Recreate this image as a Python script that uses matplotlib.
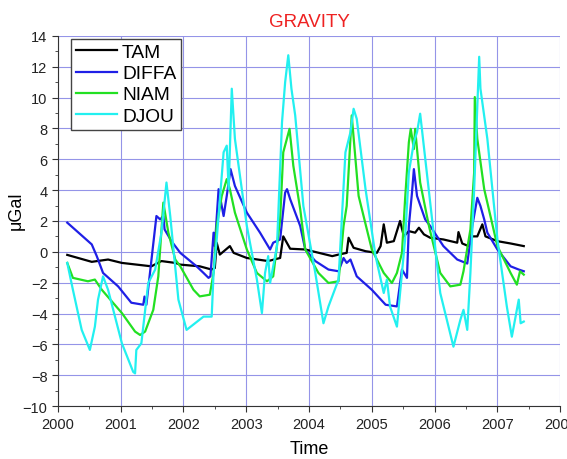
import matplotlib
matplotlib.use("Agg")
import matplotlib.pyplot as plt
from matplotlib.ticker import MultipleLocator

plt.rcParams['font.family'] = ['Liberation Sans', 'DejaVu Sans']

# values (decimal year, microGal)
tam_t = [2000.15, 2000.54, 2000.80, 2001.02, 2001.49, 2001.65, 2001.87, 2001.95, 2002.26,
         2002.45, 2002.50, 2002.53, 2002.58, 2002.74, 2002.80, 2003.01, 2003.35, 2003.54,
         2003.59, 2003.70, 2003.94, 2004.37, 2004.47, 2004.60, 2004.63, 2004.71, 2004.90,
         2005.08, 2005.14, 2005.19, 2005.24, 2005.35, 2005.45, 2005.51, 2005.59, 2005.69,
         2005.75, 2005.83, 2005.93, 2006.14, 2006.36, 2006.38, 2006.44, 2006.54, 2006.60,
         2006.68, 2006.76, 2006.81, 2007.00, 2007.21, 2007.42]
tam_g = [-0.20, -0.65, -0.50, -0.72, -0.94, -0.60, -0.72, -0.83, -0.94,
         -1.15, -1.05, 0.59, -0.18, 0.37, -0.07, -0.40, -0.60, -0.40,
         1.00, 0.20, 0.15, -0.28, -0.18, -0.07, 0.91, 0.26, 0.04,
         -0.07, 0.37, 1.78, 0.59, 0.69, 2.00, 1.00, 1.34, 1.24,
         1.56, 1.13, 0.91, 0.80, 0.59, 1.28, 0.54, 0.37, 1.00,
         1.00, 1.78, 1.00, 0.69, 0.54, 0.37]

diffa_t = [2000.15, 2000.38, 2000.54, 2000.62, 2000.72, 2000.96, 2001.17, 2001.36, 2001.38,
           2001.41, 2001.57, 2001.63, 2001.68, 2001.70, 2001.81, 2001.95, 2002.21, 2002.32,
           2002.40, 2002.43, 2002.48, 2002.50, 2002.56, 2002.64, 2002.69, 2002.75, 2002.82,
           2003.01, 2003.22, 2003.38, 2003.43, 2003.54, 2003.62, 2003.65, 2003.70, 2003.86,
           2003.94, 2004.10, 2004.31, 2004.47, 2004.55, 2004.60, 2004.66, 2004.76, 2005.00,
           2005.22, 2005.40, 2005.48, 2005.56, 2005.59, 2005.64, 2005.67, 2005.72, 2005.85,
           2005.93, 2006.14, 2006.36, 2006.52, 2006.60, 2006.68, 2006.73, 2006.79, 2006.84,
           2007.00, 2007.21, 2007.34, 2007.42]
diffa_g = [1.89, 1.06, 0.48, -0.28, -1.37, -2.24, -3.30, -3.43, -2.90,
           -3.43, 2.32, 2.10, 2.32, 1.45, 0.69, -0.07, -0.94, -1.37,
           -1.69, -1.59, 1.24, 0.37, 4.06, 2.32, 3.62, 5.36, 4.27,
           2.54, 1.24, 0.15, 0.59, 0.80, 3.84, 4.06, 3.41, 1.67,
           0.15, -0.60, -1.15, -1.26, -0.40, -0.72, -0.50, -1.59, -2.46,
           -3.43, -3.54, -1.15, -1.69, 1.67, 3.84, 5.36, 3.62, 2.10,
           1.67, 0.37, -0.50, -0.76, 1.67, 3.50, 2.97, 2.10, 1.24,
           0.15, -0.94, -1.15, -1.26]

niam_t = [2000.15, 2000.24, 2000.48, 2000.59, 2000.70, 2001.02, 2001.23, 2001.31, 2001.39,
          2001.52, 2001.60, 2001.68, 2001.76, 2001.87, 2001.95, 2002.16, 2002.26, 2002.42,
          2002.48, 2002.53, 2002.61, 2002.69, 2002.74, 2002.82, 2003.01, 2003.17, 2003.33,
          2003.43, 2003.54, 2003.59, 2003.69, 2003.75, 2003.86, 2003.94, 2004.15, 2004.31,
          2004.47, 2004.55, 2004.60, 2004.68, 2004.79, 2005.00, 2005.19, 2005.32, 2005.40,
          2005.48, 2005.53, 2005.59, 2005.62, 2005.67, 2005.69, 2005.77, 2005.91, 2006.09,
          2006.25, 2006.41, 2006.46, 2006.57, 2006.63, 2006.64, 2006.68, 2006.79, 2007.00,
          2007.21, 2007.31, 2007.36, 2007.42]
niam_g = [-0.72, -1.69, -1.91, -1.80, -2.46, -3.97, -5.17, -5.39, -5.17,
          -3.76, -1.59, 3.19, 1.24, -0.50, -0.94, -2.46, -2.89, -2.78,
          -1.37, 1.67, 3.62, 4.71, 4.06, 2.54, 0.15, -1.37, -1.91,
          -1.59, 2.10, 6.45, 7.97, 5.58, 2.76, 0.15, -1.37, -2.02,
          -1.91, 1.67, 2.97, 8.84, 3.62, 0.15, -1.37, -2.02, -1.37,
          -0.07, 3.41, 7.10, 7.97, 6.66, 7.97, 4.49, 1.67, -1.37,
          -2.24, -2.13, -1.26, 1.45, 5.15, 10.03, 7.32, 4.06, 0.37,
          -1.37, -2.13, -1.26, -1.48]

djou_t = [2000.15, 2000.24, 2000.38, 2000.51, 2000.59, 2000.64, 2000.72, 2000.80, 2001.02,
          2001.20, 2001.23, 2001.25, 2001.33, 2001.44, 2001.55, 2001.65, 2001.73, 2001.79,
          2001.92, 2002.05, 2002.32, 2002.45, 2002.48, 2002.53, 2002.64, 2002.69, 2002.72,
          2002.77, 2002.82, 2003.01, 2003.17, 2003.25, 2003.30, 2003.35, 2003.38, 2003.49,
          2003.57, 2003.62, 2003.67, 2003.72, 2003.78, 2003.91, 2004.10, 2004.23, 2004.31,
          2004.47, 2004.58, 2004.66, 2004.71, 2004.76, 2004.90, 2005.06, 2005.19, 2005.24,
          2005.29, 2005.40, 2005.53, 2005.59, 2005.67, 2005.72, 2005.77, 2005.96, 2006.09,
          2006.30, 2006.41, 2006.46, 2006.52, 2006.57, 2006.63, 2006.71, 2006.73, 2006.84,
          2007.00, 2007.15, 2007.23, 2007.34, 2007.37, 2007.42]
djou_g = [-0.72, -2.46, -5.06, -6.36, -4.85, -3.10, -1.59, -2.46, -5.93,
          -7.78, -7.88, -6.36, -5.93, -2.02, -1.15, 1.24, 4.49, 2.32,
          -3.10, -5.06, -4.20, -4.20, -1.37, 0.80, 6.45, 6.88, 4.06,
          10.57, 7.32, 1.67, -1.80, -3.97, -1.37, -0.28, -2.02, 0.37,
          8.40, 11.00, 12.74, 10.57, 8.84, 2.97, -1.37, -4.63, -3.54,
          -1.80, 6.45, 7.75, 9.27, 8.62, 4.06, -0.28, -2.67, -1.80,
          -3.54, -4.85, 0.80, 5.15, 7.10, 7.75, 8.95, 2.10, -2.67,
          -6.15, -4.41, -3.76, -5.06, -1.37, 4.06, 12.64, 10.57, 7.32,
          0.80, -3.54, -5.50, -3.10, -4.63, -4.52]

series = [
    ("TAM", tam_t, tam_g, "black"),
    ("DIFFA", diffa_t, diffa_g, "#1f1fe6"),
    ("NIAM", niam_t, niam_g, "#22e022"),
    ("DJOU", djou_t, djou_g, "#22f0f0"),
]

fig = plt.figure(figsize=(5.67, 4.60), dpi=100)
ax = fig.add_axes([0.102, 0.115, 0.886, 0.805])

for name, t, g, col in series:
    ax.plot(t, g, color=col, lw=1.6, label=name)

ax.set_xlim(2000, 2008)
ax.set_ylim(-10, 14)
ax.xaxis.set_major_locator(MultipleLocator(1))
ax.xaxis.set_minor_locator(MultipleLocator(0.5))
ax.yaxis.set_major_locator(MultipleLocator(2))
ax.yaxis.set_minor_locator(MultipleLocator(1))
ax.xaxis.set_major_formatter(plt.FuncFormatter(lambda x, p: f'{x:.0f}'))

ax.grid(True, which='major', color='#9494e8', lw=0.8)
ax.set_axisbelow(True)
for s in ['top', 'right']:
    ax.spines[s].set_visible(False)
for s in ['left', 'bottom']:
    ax.spines[s].set_color('#333333')

ax.tick_params(which='major', direction='out', length=4, labelsize=10.5,
               color='#333333', labelcolor='#222222')
ax.tick_params(which='minor', direction='out', length=2.5, color='#333333')

ax.set_xlabel('Time', fontsize=13, labelpad=7)
ax.set_ylabel('μGal', fontsize=13)
ax.yaxis.set_label_coords(-0.065, 0.53)
ax.set_title('GRAVITY', color='#ee2222', fontsize=13.5, pad=7)

leg = ax.legend(loc='upper left', bbox_to_anchor=(0.026, 0.992), fontsize=13.8,
                fancybox=False, framealpha=1, edgecolor='#444444',
                borderpad=0.25, labelspacing=0.2, handlelength=2.15,
                handletextpad=0.27, borderaxespad=0)
leg.get_frame().set_linewidth(1.0)

fig.savefig('out.png', dpi=100)
